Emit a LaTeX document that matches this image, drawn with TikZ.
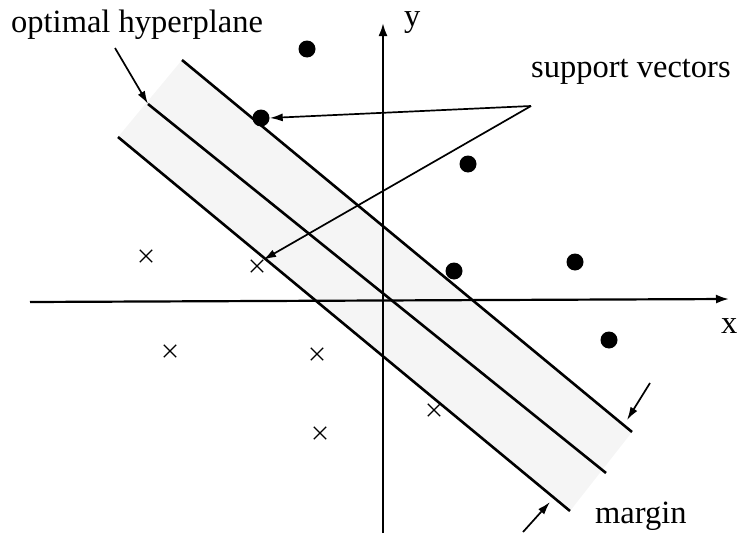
\documentclass[tikz,border=0pt]{standalone}
\usepackage{fontspec}
\setmainfont{Liberation Serif}
\usetikzlibrary{arrows.meta,shapes.misc}
\begin{document}
\begin{tikzpicture}[x=1pt,y=-1pt,
  lbl/.style={inner sep=0pt,font=\fontsize{32.5}{36}\selectfont},
  pt/.style={circle,fill=black,inner sep=0pt,minimum size=17pt},
  xm/.style={cross out,draw=black,line width=1.3pt,inner sep=0pt,minimum size=11pt},
  hyp/.style={line width=2.6pt},
  axis/.style={line width=2.2pt,-{Latex[length=13pt,width=9pt]}},
  arr/.style={line width=1.7pt,-{Latex[length=13pt,width=8pt]}}]
\useasboundingbox (0,0) rectangle (737,538);
% shaded margin band
\fill[gray!8] (182,60) -- (632,432) -- (570,511) -- (118,137) -- cycle;
% axes
\coordinate (xs) at (30,302);
\coordinate (xe) at (729,299);
\coordinate (ys) at (383,533);
\coordinate (ye) at (383,23);
\draw[axis] (xs) -- (xe);
\draw[axis] (ys) -- (ye);
% hyperplanes
\coordinate (u1) at (182,60);  \coordinate (u2) at (632,432);
\coordinate (m1) at (148,104); \coordinate (m2) at (606,473);
\coordinate (l1) at (118,137); \coordinate (l2) at (570,511);
\draw[hyp] (u1) -- (u2);
\draw[hyp] (m1) -- (m2);
\draw[hyp] (l1) -- (l2);
% points
\node[pt] (d1) at (307,49) {};
\node[pt] (d2) at (261,118) {};
\node[pt] (d3) at (468,164) {};
\node[pt] (d4) at (454,271) {};
\node[pt] (d5) at (575,262) {};
\node[pt] (d6) at (609,340) {};
\node[xm] (c1) at (146,256) {};
\node[xm] (c2) at (257,266) {};
\node[xm] (c3) at (170,351) {};
\node[xm] (c4) at (317,354) {};
\node[xm] (c5) at (320,433) {};
\node[xm] (c6) at (434,410) {};
% labels
\node[lbl,anchor=base west] (oh) at (11,32) {optimal hyperplane};
\node[lbl,anchor=base west] (sv) at (531,77) {support vectors};
\node[lbl,anchor=base west] (mg) at (595,523) {margin};
\node[lbl,anchor=base west] (ly) at (404,26) {y};
\node[lbl,anchor=base west] (lx) at (721,333) {x};
% annotation arrows
\coordinate (ohs) at (115,48);
\coordinate (apex) at (531,106);
\draw[arr] (ohs) -- (m1);
\draw[arr] (apex) -- (d2.east);
\draw[arr] (apex) -- (c2.north east);
\coordinate (ma1) at (650,383);
\coordinate (ma1e) at (627,420);
\coordinate (ma2) at (523,532);
\coordinate (ma2e) at (550,502);
\draw[arr] (ma1) -- (ma1e);
\draw[arr] (ma2) -- (ma2e);
\end{tikzpicture}
\end{document}
